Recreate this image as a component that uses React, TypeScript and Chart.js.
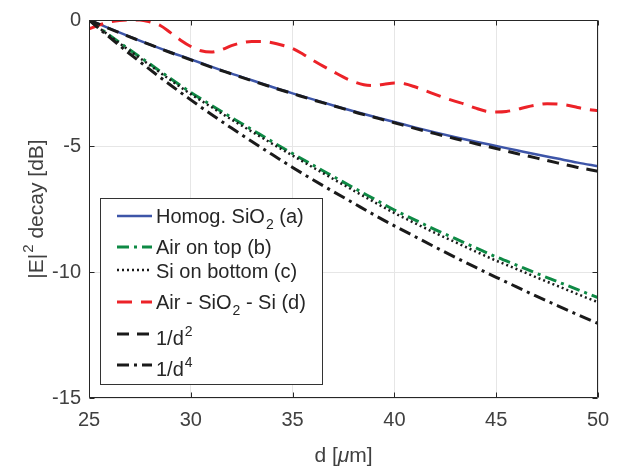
import React, { useEffect, useRef } from 'react';
import { Chart, registerables } from 'chart.js';

Chart.register(...registerables);

// ---------- data ----------
const dMicron = [25, 26, 27, 28, 29, 30, 31, 32, 33, 34, 35, 36, 37, 38, 39, 40, 41, 42, 43, 44, 45, 46, 47, 48, 49, 50];

const homogSiO2 = [0, -0.33, -0.66, -0.98, -1.28, -1.56, -1.85, -2.13, -2.39, -2.66, -2.91, -3.15, -3.39, -3.62, -3.84, -4.05, -4.26, -4.46, -4.65, -4.83, -5.0, -5.17, -5.34, -5.5, -5.66, -5.8];

const airOnTop = [0, -0.6, -1.18, -1.75, -2.32, -2.87, -3.38, -3.87, -4.35, -4.83, -5.3, -5.76, -6.21, -6.66, -7.1, -7.54, -7.93, -8.32, -8.68, -9.04, -9.4, -9.73, -10.06, -10.38, -10.7, -11.02];

const siOnBottom = [0, -0.62, -1.22, -1.8, -2.38, -2.94, -3.45, -3.95, -4.43, -4.91, -5.38, -5.85, -6.31, -6.77, -7.22, -7.66, -8.06, -8.45, -8.82, -9.19, -9.55, -9.88, -10.22, -10.55, -10.88, -11.2];

const dFine = [25, 25.5, 26, 26.5, 27, 27.5, 28, 28.5, 29, 29.5, 30, 30.5, 31, 31.5, 32, 32.5, 33, 33.5, 34, 34.5, 35, 35.5, 36, 36.5, 37, 37.5, 38, 38.5, 39, 39.5, 40, 40.5, 41, 41.5, 42, 42.5, 43, 43.5, 44, 44.5, 45, 45.5, 46, 46.5, 47, 47.5, 48, 48.5, 49, 49.5, 50];

const airSiO2Si = [-0.35, -0.2, -0.08, -0.02, 0, 0, -0.08, -0.22, -0.5, -0.8, -1.05, -1.22, -1.27, -1.18, -1.02, -0.9, -0.85, -0.85, -0.9, -1.0, -1.13, -1.35, -1.6, -1.83, -2.05, -2.27, -2.45, -2.57, -2.6, -2.55, -2.5, -2.53, -2.65, -2.8, -2.95, -3.1, -3.23, -3.35, -3.5, -3.62, -3.65, -3.63, -3.55, -3.45, -3.37, -3.32, -3.33, -3.38, -3.47, -3.55, -3.6];

const invD2 = [0, -0.34, -0.67, -0.98, -1.29, -1.58, -1.87, -2.14, -2.41, -2.67, -2.92, -3.17, -3.4, -3.64, -3.86, -4.08, -4.3, -4.51, -4.71, -4.91, -5.1, -5.3, -5.48, -5.67, -5.85, -6.0];

const invD4 = [0, -0.68, -1.34, -1.97, -2.58, -3.17, -3.74, -4.29, -4.82, -5.34, -5.85, -6.34, -6.81, -7.27, -7.73, -8.17, -8.59, -9.01, -9.42, -9.82, -10.21, -10.59, -10.97, -11.33, -11.69, -12.04];

const xTicks = [25, 30, 35, 40, 45, 50];
const yTicks = [0, -5, -10, -15];

type Seg = { t: string; s?: 'sub' | 'sup' | 'it' };

const xTitleSegs: Seg[] = [{ t: 'd [' }, { t: 'μ', s: 'it' }, { t: 'm]' }];
const yTitleSegs: Seg[] = [{ t: '|E|' }, { t: '2', s: 'sup' }, { t: ' decay [dB]' }];

const legendLabels: Seg[][] = [
  [{ t: 'Homog. SiO' }, { t: '2', s: 'sub' }, { t: ' (a)' }],
  [{ t: 'Air on top (b)' }],
  [{ t: 'Si on bottom (c)' }],
  [{ t: 'Air - SiO' }, { t: '2', s: 'sub' }, { t: ' - Si (d)' }],
  [{ t: '1/d' }, { t: '2', s: 'sup' }],
  [{ t: '1/d' }, { t: '4', s: 'sup' }],
];

const FONT = '"Liberation Sans", Arial, Helvetica, sans-serif';
const TEXT = '#404040';

const toPts = (xs: number[], ys: number[]) => xs.map((x, i) => ({ x, y: ys[i] }));

// draws a run of segments (normal / sub / sup / italic) starting at x, baseline y
function segWidth(ctx: CanvasRenderingContext2D, segs: Seg[], size: number, small: number) {
  let w = 0;
  segs.forEach((seg) => {
    if (seg.s === 'sub' || seg.s === 'sup') {
      ctx.font = `${small}px ${FONT}`;
      w += ctx.measureText(seg.t).width + 1;
    } else {
      ctx.font = `${seg.s === 'it' ? 'italic ' : ''}${size}px ${FONT}`;
      w += ctx.measureText(seg.t).width;
    }
  });
  return w;
}
function drawSegs(ctx: CanvasRenderingContext2D, segs: Seg[], x: number, y: number, size: number, small: number, subDy: number, supDy: number) {
  segs.forEach((seg) => {
    if (seg.s === 'sub' || seg.s === 'sup') {
      ctx.font = `${small}px ${FONT}`;
      ctx.fillText(seg.t, x + 1, y + (seg.s === 'sub' ? subDy : supDy));
      x += ctx.measureText(seg.t).width + 1;
    } else {
      ctx.font = `${seg.s === 'it' ? 'italic ' : ''}${size}px ${FONT}`;
      ctx.fillText(seg.t, x, y);
      x += ctx.measureText(seg.t).width;
    }
  });
}

const titlesPlugin = {
  id: 'axisTitles',
  afterDraw(chart: any) {
    const { ctx, chartArea } = chart;
    ctx.save();
    ctx.fillStyle = TEXT;
    ctx.textAlign = 'left';
    ctx.textBaseline = 'alphabetic';
    // x title
    const wx = segWidth(ctx, xTitleSegs, 21, 15);
    const cx = (chartArea.left + chartArea.right) / 2;
    drawSegs(ctx, xTitleSegs, cx - wx / 2, chart.height - 10, 21, 15, 6, -9);
    // y title (rotated)
    const wy = segWidth(ctx, yTitleSegs, 21, 15);
    const cy = (chartArea.top + chartArea.bottom) / 2;
    ctx.translate(43, cy);
    ctx.rotate(-Math.PI / 2);
    drawSegs(ctx, yTitleSegs, -wy / 2, 0, 21, 15, 6, -10);
    ctx.restore();
  },
};

const boxPlugin = {
  id: 'matlabBox',
  afterDraw(chart: any) {
    const { ctx, chartArea } = chart;
    const { left, right, top, bottom } = chartArea;
    const xs = chart.scales.x;
    const ys = chart.scales.y;
    ctx.save();
    ctx.strokeStyle = '#262626';
    ctx.lineWidth = 1;
    ctx.beginPath();
    const L = Math.round(left) + 0.5, R = Math.round(right) - 0.5;
    const T = Math.round(top) + 0.5, B = Math.round(bottom) - 0.5;
    ctx.rect(L, T, R - L, B - T);
    const tl = 5;
    xTicks.forEach((v) => {
      const px = Math.round(xs.getPixelForValue(v)) + 0.5;
      ctx.moveTo(px, B); ctx.lineTo(px, B - tl);
      ctx.moveTo(px, T); ctx.lineTo(px, T + tl);
    });
    yTicks.forEach((v) => {
      const py = Math.round(ys.getPixelForValue(v)) + 0.5;
      ctx.moveTo(L, py); ctx.lineTo(L + tl, py);
      ctx.moveTo(R, py); ctx.lineTo(R - tl, py);
    });
    ctx.stroke();
    ctx.restore();
  },
};

const legendPlugin = {
  id: 'matlabLegend',
  afterDraw(chart: any) {
    const { ctx } = chart;
    const bx = 100, by = 198, bw = 222, bh = 186;
    ctx.save();
    ctx.fillStyle = '#ffffff';
    ctx.fillRect(bx, by, bw, bh);
    ctx.strokeStyle = '#333333';
    ctx.lineWidth = 1;
    ctx.strokeRect(bx + 0.5, by + 0.5, bw, bh);
    const rowLine = [18, 49, 72, 104, 136, 167];
    const rowBase = [25, 56, 80, 111, 147, 178];
    chart.data.datasets.forEach((ds: any, i: number) => {
      const ly = by + rowLine[i];
      ctx.save();
      ctx.strokeStyle = ds.borderColor;
      ctx.lineWidth = ds.borderWidth;
      ctx.setLineDash(ds.borderDash || []);
      ctx.beginPath();
      ctx.moveTo(bx + 17, ly);
      ctx.lineTo(bx + 52, ly);
      ctx.stroke();
      ctx.restore();
      ctx.fillStyle = '#262626';
      ctx.textBaseline = 'alphabetic';
      ctx.textAlign = 'left';
      drawSegs(ctx, legendLabels[i], bx + 56, by + rowBase[i], 20, 14, 6, -9);
    });
    ctx.restore();
  },
};

export default function App() {
  const ref = useRef<HTMLCanvasElement | null>(null);

  useEffect(() => {
    document.body.style.margin = '0';
    const canvas = ref.current;
    if (!canvas) return;
    const n = 6;
    const mk = (label: string, pts: any[], color: string, width: number, dash: number[], i: number) => ({
      label,
      data: pts,
      borderColor: color,
      backgroundColor: color,
      borderWidth: width,
      borderDash: dash,
      pointRadius: 0,
      fill: false,
      cubicInterpolationMode: 'monotone',
      order: n - 1 - i,
    });
    const chart = new Chart(canvas, {
      type: 'line',
      data: {
        datasets: [
          mk('Homog. SiO2 (a)', toPts(dMicron, homogSiO2), '#3D55A8', 2.5, [], 0),
          mk('Air on top (b)', toPts(dMicron, airOnTop), '#0E8A45', 3, [12, 5, 3, 5], 1),
          mk('Si on bottom (c)', toPts(dMicron, siOnBottom), '#1a1a1a', 2.5, [2, 3], 2),
          mk('Air - SiO2 - Si (d)', toPts(dFine, airSiO2Si), '#EC2228', 3, [15, 9], 3),
          mk('1/d2', toPts(dMicron, invD2), '#1a1a1a', 3, [12, 8], 4),
          mk('1/d4', toPts(dMicron, invD4), '#1a1a1a', 3, [12, 5, 3, 5], 5),
        ] as any,
      },
      options: {
        animation: false,
        responsive: false,
        maintainAspectRatio: false,
        layout: { padding: { top: 9, right: 27, left: 0, bottom: 0 } },
        plugins: { legend: { display: false }, tooltip: { enabled: false } },
        scales: {
          x: {
            type: 'linear',
            min: 25,
            max: 50,
            afterBuildTicks: (s: any) => { s.ticks = xTicks.map((v) => ({ value: v })); },
            grid: { color: '#e6e6e6', drawTicks: false },
            border: { display: false },
            ticks: { font: { size: 20, family: FONT }, color: TEXT, padding: 10, maxRotation: 0 },
            title: { display: false },
            afterFit: (s: any) => { s.height = 74; },
          },
          y: {
            type: 'linear',
            min: -15,
            max: 0,
            afterBuildTicks: (s: any) => { s.ticks = yTicks.map((v) => ({ value: v })); },
            grid: { color: '#e6e6e6', drawTicks: false },
            border: { display: false },
            ticks: { font: { size: 20, family: FONT }, color: TEXT, padding: 8 },
            title: { display: false },
            afterFit: (s: any) => { s.width = 89; },
          },
        },
      } as any,
      plugins: [titlesPlugin, boxPlugin, legendPlugin],
    });
    return () => chart.destroy();
  }, []);

  return (
    <div style={{ width: 625, height: 472 }}>
      <canvas ref={ref} width={625} height={472} style={{ display: 'block' }} />
    </div>
  );
}
